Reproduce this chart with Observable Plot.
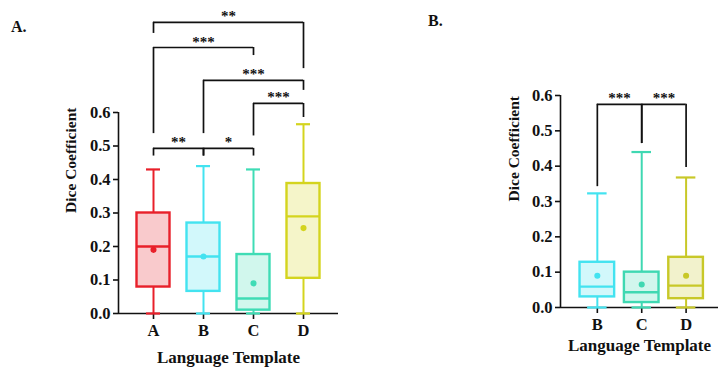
<!DOCTYPE html>
<html><head><meta charset="utf-8">
<script src="https://cdn.jsdelivr.net/npm/d3@7"></script>
<script src="https://cdn.jsdelivr.net/npm/@observablehq/plot@0.6"></script>
<style>
body{margin:0;background:#fff;width:721px;height:370px;position:relative;overflow:hidden;font-family:"Liberation Serif",serif;font-weight:bold}
#a,#b{position:absolute;top:0}
#a{left:0}#b{left:420px}
.tag{position:absolute;font-size:16px;font-weight:bold;color:#111}
</style></head><body>
<div class="tag" style="left:11px;top:18px">A.</div>
<div class="tag" style="left:428px;top:12px">B.</div>
<div id="a"></div><div id="b"></div>
<script>
// ---------- Panel A data ----------
const catsA = ["A", "B", "C", "D"];
const minA  = [0, 0, 0, 0];
const q1A   = [0.079, 0.066, 0.010, 0.105];
const medA  = [0.200, 0.170, 0.045, 0.290];
const q3A   = [0.300, 0.270, 0.176, 0.388];
const maxA  = [0.430, 0.440, 0.430, 0.565];
const meanA = [0.190, 0.170, 0.090, 0.255];
const colorsA = ["#e8202a", "#43e3f0", "#3fdcb5", "#d4d41e"];
// significance brackets (from, to, bar height, left leg end, right leg end, label)
const brFromA  = ["A", "A", "B", "C", "A", "B"];
const brToA    = ["D", "C", "D", "D", "B", "C"];
const brBarA   = [0.869, 0.794, 0.696, 0.627, 0.493, 0.493];
const brLeftA  = [0.836, 0.537, 0.537, 0.530, 0.470, 0.470];
const brRightA = [0.731, 0.770, 0.666, 0.585, 0.470, 0.470];
const brStarsA = ["**", "***", "***", "***", "**", "*"];

// ---------- Panel B data ----------
const catsB = ["B", "C", "D"];
const minB  = [0, 0, 0];
const q1B   = [0.030, 0.014, 0.025];
const medB  = [0.059, 0.043, 0.062];
const q3B   = [0.128, 0.100, 0.142];
const maxB  = [0.323, 0.440, 0.368];
const meanB = [0.090, 0.065, 0.090];
const colorsB = ["#43e3f0", "#3fd8b2", "#c8c828"];
const brFromB  = ["B", "C"];
const brToB    = ["C", "D"];
const brBarB   = [0.575, 0.575];
const brLeftB  = [0.342, 0.464];
const brRightB = [0.464, 0.396];
const brStarsB = ["***", "***"];

const yTicks = [0, 0.1, 0.2, 0.3, 0.4, 0.5, 0.6];
const yLabel = "Dice Coefficient";
const xLabel = "Language Template";

function panel(cfg) {
  const {cats, min, q1, med, q3, max, mean, colors, br, width, height, ml, mr, mt, mb, domainX, hw, cw, ylDx, xlDy} = cfg;
  const rows = cats.map((c, i) => ({i, c, min: min[i], q1: q1[i], med: med[i], q3: q3[i], max: max[i], mean: mean[i], color: colors[i]}));
  const brs = br.from.map((f, k) => ({
    x1: cats.indexOf(f), x2: cats.indexOf(br.to[k]),
    y: br.bar[k], yl: br.left[k], yr: br.right[k], s: br.stars[k]
  }));
  return Plot.plot({
    width, height,
    marginLeft: ml, marginRight: mr, marginTop: mt, marginBottom: mb,
    x: {type: "linear", domain: domainX},
    y: {domain: [0, 0.6]},
    style: {fontFamily: "Liberation Serif, serif", fontSize: "16.5px", fontWeight: "bold", color: "#111", background: "transparent", overflow: "visible"},
    marks: [
      // box fills
      Plot.rect(rows, {x1: d => d.i - hw, x2: d => d.i + hw, y1: "q1", y2: "q3", fill: "color", fillOpacity: 0.24}),
      // axes
      Plot.axisY({ticks: yTicks, tickFormat: d3.format(".1f"), tickSize: 5, tickPadding: 3, label: null, strokeWidth: 1.6}),
      Plot.axisX({ticks: cats.map((c, i) => i), tickFormat: i => cats[i], tickSize: 6, tickPadding: 5, label: null, strokeWidth: 1.6}),
      Plot.ruleX([domainX[0]], {y1: 0, y2: 0.6, stroke: "#111", strokeWidth: 1.6}),
      Plot.ruleY([0], {stroke: "#111", strokeWidth: 1.6}),
      // whiskers
      Plot.ruleX(rows, {x: "i", y1: "min", y2: "q1", stroke: "color", strokeWidth: 2}),
      Plot.ruleX(rows, {x: "i", y1: "q3", y2: "max", stroke: "color", strokeWidth: 2}),
      Plot.ruleY(rows, {x1: d => d.i - cw, x2: d => d.i + cw, y: "max", stroke: "color", strokeWidth: 2.2}),
      Plot.ruleY(rows, {x1: d => d.i - cw, x2: d => d.i + cw, y: "min", stroke: "color", strokeWidth: 2.2}),
      // boxes
      Plot.rect(rows, {x1: d => d.i - hw, x2: d => d.i + hw, y1: "q1", y2: "q3", stroke: "color", strokeWidth: 2.4, fill: "none"}),
      Plot.ruleY(rows, {x1: d => d.i - hw, x2: d => d.i + hw, y: "med", stroke: "color", strokeWidth: 2.4}),
      Plot.dot(rows, {x: "i", y: "mean", fill: "color", stroke: "color", r: 2.3}),
      // brackets
      Plot.ruleY(brs, {x1: "x1", x2: "x2", y: "y", stroke: "#111", strokeWidth: 1.7}),
      Plot.ruleX(brs, {x: "x1", y1: "yl", y2: "y", stroke: "#111", strokeWidth: 1.7}),
      Plot.ruleX(brs, {x: "x2", y1: "yr", y2: "y", stroke: "#111", strokeWidth: 1.7}),
      Plot.text(brs, {x: d => (d.x1 + d.x2) / 2, y: "y", text: "s", lineAnchor: "bottom", dy: -1, fontSize: 15, fill: "#111"}),
      // axis titles
      Plot.text([yLabel], {frameAnchor: "left", rotate: -90, dx: ylDx, fontSize: 15.5, fill: "#111"}),
      Plot.text([xLabel], {frameAnchor: "bottom", dy: xlDy, fontSize: 17, fill: "#111"})
    ]
  });
}

document.getElementById("a").append(panel({
  cats: catsA, min: minA, q1: q1A, med: medA, q3: q3A, max: maxA, mean: meanA, colors: colorsA,
  br: {from: brFromA, to: brToA, bar: brBarA, left: brLeftA, right: brRightA, stars: brStarsA},
  width: 360, height: 370, ml: 118, mr: 22, mt: 112, mb: 57,
  domainX: [-0.7, 3.7], hw: 0.33, cw: 0.14, ylDx: -47, xlDy: 49
}));
document.getElementById("b").append(panel({
  cats: catsB, min: minB, q1: q1B, med: medB, q3: q3B, max: maxB, mean: meanB, colors: colorsB,
  br: {from: brFromB, to: brToB, bar: brBarB, left: brLeftB, right: brRightB, stars: brStarsB},
  width: 301, height: 370, ml: 140, mr: 3, mt: 95, mb: 63,
  domainX: [-0.83, 2.73], hw: 0.39, cw: 0.22, ylDx: -46, xlDy: 43
}));
</script>
</body></html>
